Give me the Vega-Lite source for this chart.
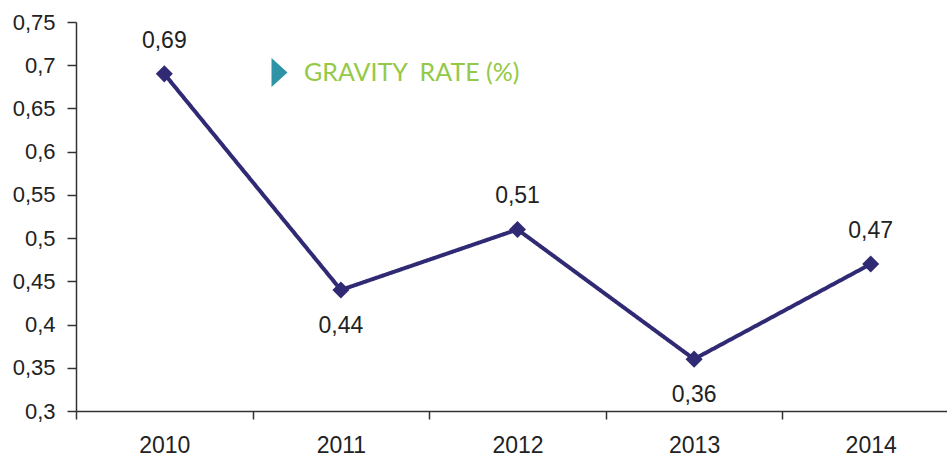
{
  "$schema": "https://vega.github.io/schema/vega-lite/v6.json",
  "autosize": "none",
  "padding": {"left": 76, "top": 22, "right": 0, "bottom": 48},
  "width": 883,
  "height": 389,
  "background": "white",
  "config": {
    "locale": {"number": {"decimal": ",", "thousands": ".", "grouping": [3], "currency": ["", " €"]}},
    "view": {"stroke": null},
    "axis": {"labelFont": "Liberation Sans", "labelFontSize": 22, "labelColor": "#222", "domainColor": "#333", "tickColor": "#333", "domainWidth": 1.5, "tickWidth": 1.5, "grid": false, "title": null}
  },
  "data": {
    "values": [
      {"year": "2010", "rate": 0.69, "series": "GRAVITY\u00a0 RATE (%)"},
      {"year": "2011", "rate": 0.44, "series": "GRAVITY\u00a0 RATE (%)"},
      {"year": "2012", "rate": 0.51, "series": "GRAVITY\u00a0 RATE (%)"},
      {"year": "2013", "rate": 0.36, "series": "GRAVITY\u00a0 RATE (%)"},
      {"year": "2014", "rate": 0.47, "series": "GRAVITY\u00a0 RATE (%)"}
    ]
  },
  "encoding": {
    "x": {"field": "year", "type": "ordinal", "scale": {"type": "band", "paddingInner": 0, "paddingOuter": 0},
      "axis": {"labelAngle": 0, "tickBand": "extent", "tickSize": 8, "labelPadding": 15, "labelFontSize": 23}},
    "y": {"field": "rate", "type": "quantitative", "scale": {"domain": [0.3, 0.75], "nice": false, "zero": false},
      "axis": {"values": [0.3, 0.35, 0.4, 0.45, 0.5, 0.55, 0.6, 0.65, 0.7, 0.75], "tickSize": 9, "labelPadding": 12, "format": ".2~f"}}
  },
  "layer": [
    {
      "mark": {"type": "line", "color": "#302a74", "strokeWidth": 4},
      "encoding": {
        "strokeDash": {"field": "series", "type": "nominal", "scale": {"range": [[1, 0]]},
          "legend": {"orient": "none", "legendX": 189, "legendY": 36, "title": null, "symbolType": "M-0.55,-1L0.55,0L-0.55,1Z",
            "symbolFillColor": "#2f93a6", "symbolStrokeColor": "#2f93a6", "symbolStrokeWidth": 0, "symbolSize": 841, "symbolOpacity": 1,
            "labelColor": "#93c947", "labelFont": "Lato", "labelFontSize": 25, "labelOffset": 10, "labelLimit": 400}}
      }
    },
    {
      "mark": {"type": "point", "shape": "diamond", "filled": true, "color": "#302a74", "size": 290, "opacity": 1}
    },
    {
      "transform": [{"filter": "datum.year != '2011' && datum.year != '2013'"}],
      "mark": {"type": "text", "font": "Liberation Sans", "fontSize": 23, "color": "#222", "dy": -33},
      "encoding": {"text": {"field": "rate", "type": "quantitative", "format": ".2f"}}
    },
    {
      "transform": [{"filter": "datum.year == '2011' || datum.year == '2013'"}],
      "mark": {"type": "text", "font": "Liberation Sans", "fontSize": 23, "color": "#222", "dy": 36},
      "encoding": {"text": {"field": "rate", "type": "quantitative", "format": ".2f"}}
    }
  ]
}
